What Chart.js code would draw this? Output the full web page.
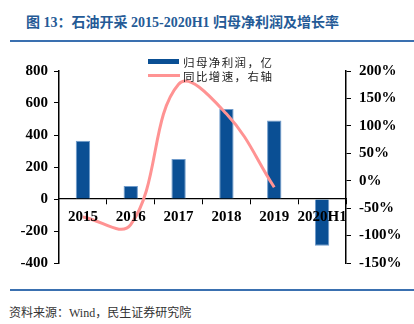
<!DOCTYPE html>
<html>
<head>
<meta charset="utf-8">
<script src="https://cdn.jsdelivr.net/npm/chart.js@4"></script>
<style>
  body { margin: 0; width: 414px; height: 324px; background: #fff; position: relative; overflow: hidden; }
  .title { position: absolute; left: 26px; top: 11px; font: bold 14px "Liberation Serif", "Noto Sans CJK SC", serif; color: #245a96; white-space: nowrap; }
  .rule { position: absolute; left: 10px; right: 0; height: 2px; background: #3a70b0; }
  .src { position: absolute; left: 9px; top: 303px; font: 12px "Liberation Serif", "Noto Sans CJK SC", serif; color: #333; white-space: nowrap; }
  .legend { position: absolute; left: 148px; font: 11.5px "Noto Sans CJK SC", sans-serif; color: #222; letter-spacing: 1.4px; white-space: nowrap; }
  .legend span { display: inline-block; vertical-align: middle; }
  #c { position: absolute; left: 0; top: 50px; }
</style>
</head>
<body>
<div class="title">图 13：石油开采 2015-2020H1 归母净利润及增长率</div>
<div class="rule" style="top:40px"></div>

<canvas id="c" width="414" height="230"></canvas>

<div class="legend" style="top:52px"><span style="width:31px;height:5px;background:#0a4f94;margin-right:4px"></span><span>归母净利润，亿</span></div>
<div class="legend" style="top:66px"><span style="width:32px;height:3px;background:#ff9393;margin-right:3px"></span><span>同比增速，右轴</span></div>

<div class="rule" style="top:289px"></div>
<div class="src">资料来源：Wind，民生证券研究院</div>

<script>
// 데이터
const categories = ['2015', '2016', '2017', '2018', '2019', '2020H1'];
const netProfit = [364, 81, 250, 562, 491, -292];     // 归母净利润，亿
const growthRate = [-66, -80, 176, 122, -12, null];   // 同比增速 %, 右轴
const leftTicks = { min: -400, max: 800, step: 200 };
const rightTicks = { min: -150, max: 200, step: 50 };

const tickFont = { family: 'Liberation Serif', weight: 'bold', size: 15 };

new Chart(document.getElementById('c'), {
  type: 'bar',
  data: {
    labels: categories,
    datasets: [{
      type: 'line',
      label: '同比增速，右轴',
      data: growthRate,
      yAxisID: 'y1',
      borderColor: '#ff9393',
      borderWidth: 3,
      pointRadius: 0,
      tension: 0.4,
      order: 0
    }, {
      label: '归母净利润，亿',
      data: netProfit,
      yAxisID: 'y',
      backgroundColor: '#0a4f94',
      borderColor: '#6f9bcb',
      borderWidth: 1,
      categoryPercentage: 1,
      barPercentage: 0.3,
      order: 1
    }]
  },
  options: {
    responsive: false,
    animation: false,
    devicePixelRatio: 1,
    layout: { padding: { top: 21, bottom: 16, left: 0, right: 0 } },
    plugins: {
      legend: { display: false },
      tooltip: { enabled: false }
    },
    scales: {
      x: {
        position: { y: 0 },
        offset: true,
        grid: { drawOnChartArea: false, drawTicks: true, tickLength: 5, color: '#000', offset: true },
        border: { color: '#000', width: 1.3 },
        // z:1 -> 라벨이 막대 위에 그려짐
        ticks: { z: 1, font: tickFont, color: '#000', padding: 4, maxRotation: 0, autoSkip: false }
      },
      y: {
        position: 'left',
        min: leftTicks.min,
        max: leftTicks.max,
        afterFit: function (s) { s.width = 59; },
        grid: { drawOnChartArea: false, tickLength: 5, color: '#000' },
        border: { color: '#000', width: 1.5 },
        ticks: { stepSize: leftTicks.step, font: tickFont, color: '#000', padding: 6 }
      },
      y1: {
        position: 'right',
        min: rightTicks.min,
        max: rightTicks.max,
        afterFit: function (s) { s.width = 68; },
        grid: { drawOnChartArea: false, tickLength: 5, color: '#000' },
        border: { color: '#000', width: 1.5 },
        ticks: {
          stepSize: rightTicks.step, font: tickFont, color: '#000', padding: 8,
          callback: function (v) { return v + '%'; }
        }
      }
    }
  }
});
</script>
</body>
</html>
